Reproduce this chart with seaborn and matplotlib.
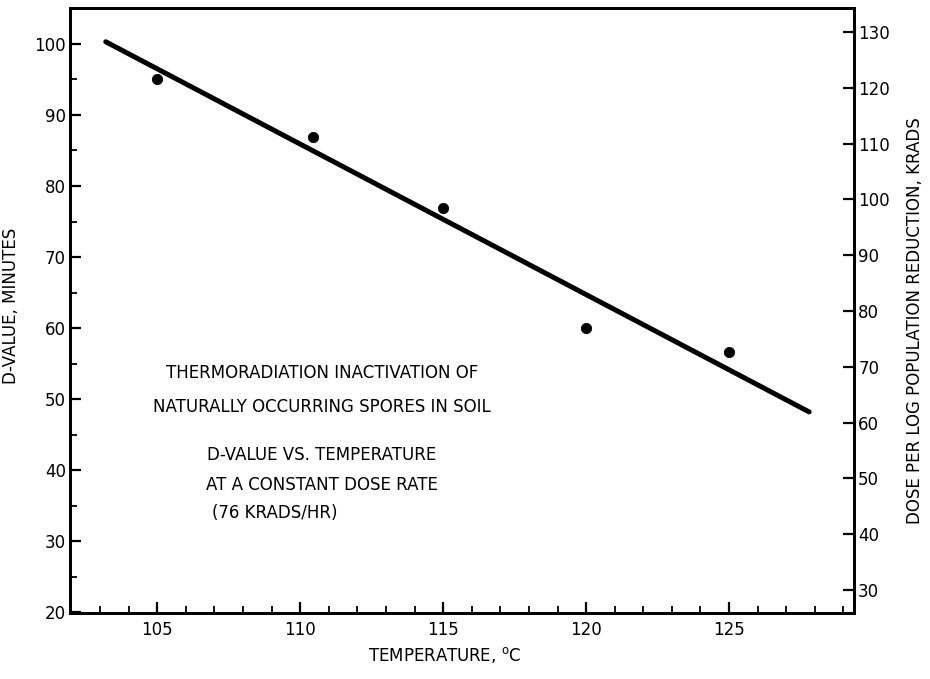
import matplotlib
matplotlib.use('Agg')
import matplotlib.pyplot as plt
import seaborn as sns
import pandas as pd
from matplotlib.ticker import MultipleLocator

# ── Data ────────────────────────────────────────────────────────────────────
temps   = [105.0, 110.45, 115.0, 120.0, 125.0]
d_vals  = [95.1, 86.9, 76.9, 60.0, 56.6]
fit_x   = [103.2, 127.8]
fit_y   = [100.3, 48.2]

x_ticks     = [105, 110, 115, 120, 125]
left_ticks  = [20, 30, 40, 50, 60, 70, 80, 90, 100]
right_ticks = [30, 40, 50, 60, 70, 80, 90, 100, 110, 120, 130]

notes = [
    'THERMORADIATION INACTIVATION OF',
    'NATURALLY OCCURRING SPORES IN SOIL',
    'D-VALUE VS. TEMPERATURE',
    'AT A CONSTANT DOSE RATE',
]

sns.set_theme(style='ticks')
plt.rcParams['font.family'] = ['DejaVu Sans']
plt.rcParams.update({'text.color': 'black', 'axes.labelcolor': 'black'})

fig = plt.figure(figsize=(9.3, 6.79), dpi=100)
ax = fig.add_axes([0.0753, 0.0972, 0.843, 0.891])

pts = pd.DataFrame({'temp': temps, 'd': d_vals})
fit = pd.DataFrame({'temp': fit_x, 'd': fit_y})
sns.lineplot(data=fit, x='temp', y='d', ax=ax, color='black', lw=3.6,
             solid_capstyle='round')
sns.scatterplot(data=pts, x='temp', y='d', ax=ax, color='black', s=55,
                edgecolor='black', zorder=3)

ax.set_xlim(101.95, 129.37)
ax.set_ylim(19.9, 105.05)
ax.set_xticks(x_ticks)
ax.xaxis.set_minor_locator(MultipleLocator(1))
ax.set_yticks(left_ticks)
ax.yaxis.set_minor_locator(MultipleLocator(5))

for s in ax.spines.values():
    s.set_linewidth(2.0)
    s.set_color('black')

ax.tick_params(axis='both', which='major', direction='in', length=8, width=1.6,
               labelsize=12, colors='black', pad=6)
ax.tick_params(axis='both', which='minor', direction='in', length=5, width=1.3,
               colors='black')
ax.tick_params(axis='y', which='major', pad=3)

ax.set_xlabel(r'TEMPERATURE, $^{\mathrm{o}}$C', fontsize=12)
ax.set_ylabel('D-VALUE, MINUTES', fontsize=12)
ax.xaxis.set_label_coords(0.478, -0.053)
ax.yaxis.set_label_coords(-0.064, 0.507)

ax2 = ax.twinx()
ax2.set_ylim(25.88, 134.3)
ax2.set_yticks(right_ticks)
ax2.tick_params(axis='y', direction='in', length=8, width=1.6, labelsize=12,
                colors='black', pad=3)
for s in ax2.spines.values():
    s.set_linewidth(2.0)
    s.set_color('black')
ax2.set_ylabel('DOSE PER LOG POPULATION REDUCTION, KRADS', fontsize=12)
ax2.yaxis.set_label_coords(1.066, 0.483)

# annotation block
note_y = [53.7, 48.9, 42.2, 37.9]
for txt, y in zip(notes, note_y):
    ax.text(110.75, y, txt, ha='center', va='center', fontsize=12)
ax.text(109.1, 34.0, '(76 KRADS/HR)', ha='center', va='center', fontsize=12)

fig.savefig('out.png', dpi=100)
plt.close()
